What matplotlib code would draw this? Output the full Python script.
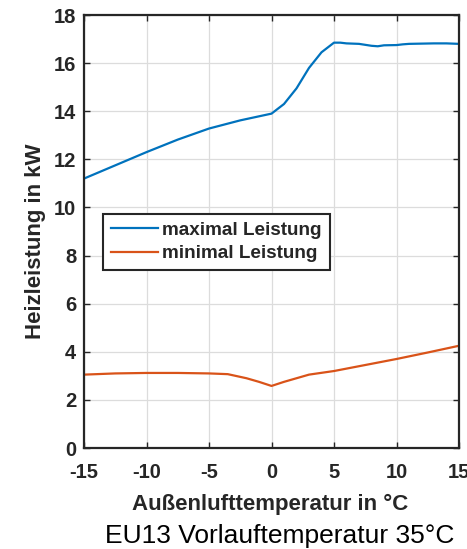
import matplotlib
matplotlib.use("Agg")
import matplotlib.pyplot as plt

# Heizleistung über Außenlufttemperatur
t_max = [-15, -12.5, -10, -7.5, -5, -2.5, 0, 1, 2, 3, 4, 5, 5.5, 6, 7, 8, 8.5, 9, 10, 10.5, 11, 12, 13, 14, 15]
p_max = [11.2, 11.75, 12.3, 12.82, 13.28, 13.62, 13.9, 14.3, 14.95, 15.8, 16.45, 16.85, 16.85, 16.82, 16.8,
         16.72, 16.7, 16.74, 16.75, 16.78, 16.8, 16.81, 16.82, 16.82, 16.8]
t_min = [-15, -12.5, -10, -7.5, -5, -3.5, -2, -1, 0, 1, 2, 3, 5, 7.5, 10, 12.5, 15]
p_min = [3.05, 3.1, 3.12, 3.12, 3.1, 3.07, 2.9, 2.75, 2.58, 2.75, 2.9, 3.05, 3.2, 3.45, 3.7, 3.97, 4.25]

x_ticks = [-15, -10, -5, 0, 5, 10, 15]
y_ticks = [0, 2, 4, 6, 8, 10, 12, 14, 16, 18]

plt.rcParams["font.family"] = ["Liberation Sans", "DejaVu Sans"]
plt.rcParams["axes.unicode_minus"] = False
txt = "#262626"

fig = plt.figure(figsize=(4.67, 5.49), dpi=100)
ax = fig.add_axes([84 / 467, 1 - 448 / 549, 375 / 467, 433 / 549])

ax.plot(t_max, p_max, color="#0072BD", lw=1.6, label="maximal Leistung")
ax.plot(t_min, p_min, color="#D95319", lw=1.6, label="minimal Leistung")

ax.set_xlim(-15, 15)
ax.set_ylim(0, 18)
ax.set_xticks(x_ticks)
ax.set_yticks(y_ticks)
ax.grid(True, color="#dcdcdc", lw=0.9)
ax.set_axisbelow(True)
ax.tick_params(direction="in", length=4, width=1, colors=txt, labelsize=14.5,
               top=True, right=True)
ax.tick_params(axis="x", pad=11)
ax.tick_params(axis="y", pad=5.5)
for lab in ax.get_xticklabels() + ax.get_yticklabels():
    lab.set_fontweight("bold")
for s in ax.spines.values():
    s.set_linewidth(1.6)
    s.set_color(txt)

ax.set_xlabel("Außenlufttemperatur in °C", fontsize=16, fontweight="bold", color=txt, va="baseline")
ax.xaxis.set_label_coords(0.497, -(510 - 448) / 433)
ax.set_ylabel("Heizleistung in kW", fontsize=16, fontweight="bold", color=txt, va="center")
ax.yaxis.set_label_coords((35 - 84) / 375, (448 - 241) / 433)

leg = ax.legend(loc="upper left", bbox_to_anchor=((103 - 84) / 375, (448 - 214) / 433), fontsize=13.6,
                frameon=True, fancybox=False, edgecolor=txt, handlelength=2.5, handletextpad=0.25,
                borderpad=0.4, labelspacing=0.33, borderaxespad=0, framealpha=1)
leg.get_frame().set_linewidth(1.5)
for t in leg.get_texts():
    t.set_fontweight("bold")
    t.set_color(txt)

fig.text(279.5 / 467, 1 - 543 / 549, "EU13 Vorlauftemperatur 35°C", ha="center", va="baseline",
         fontsize=19, color="black")

fig.savefig("out.png", dpi=100)
